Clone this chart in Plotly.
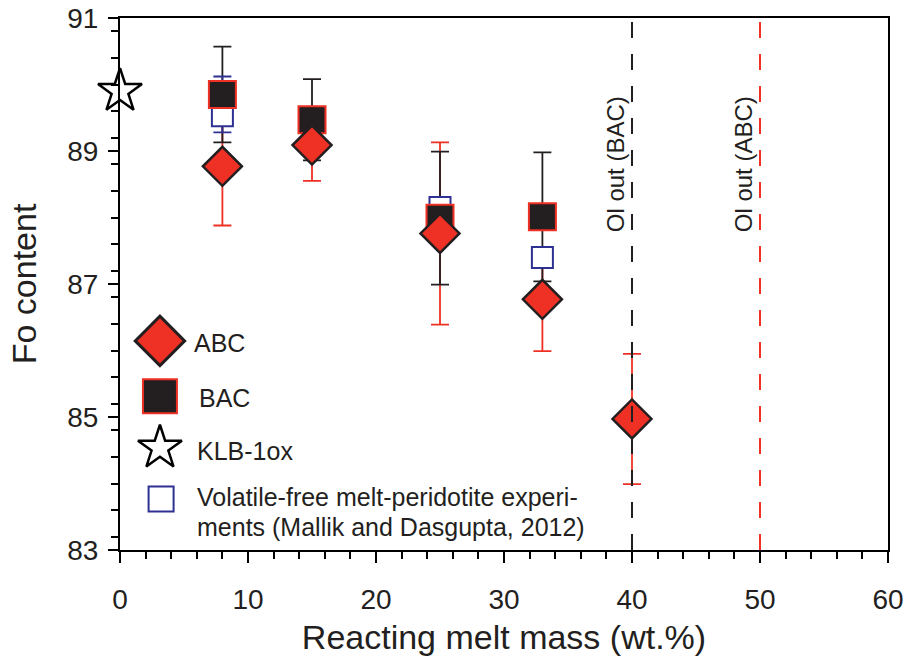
import plotly.graph_objects as go

# ABC series (red diamonds)
abc_x = [8, 15, 25, 33, 40]
abc_y = [88.77, 89.09, 87.76, 86.77, 84.97]
abc_err = [0.89, 0.54, 1.37, 0.78, 0.98]

# BAC series (black squares)
bac_x = [8, 15, 25, 33]
bac_y = [89.85, 89.47, 87.99, 88.01]
bac_err = [0.72, 0.61, 1.00, 0.97]

# volatile-free melt-peridotite experiments (Mallik and Dasgupta, 2012)
vf_x = [8, 25, 33]
vf_y = [89.53, 88.15, 87.40]
vf_err_plus = [0.59, 0, 0]
vf_err_minus = [0.25, 0, 0]

# starting peridotite
klb_x = [0]
klb_y = [89.9]

# olivine-out melt masses
ol_out_x = [40, 50]
ol_out_labels = ['Ol out (BAC)', 'Ol out (ABC)']
ol_out_colors = ['#231F20', '#EE3124']

RED = '#EE3124'
BLACK = '#231F20'
BLUE = '#2E3192'
FONT = 'Liberation Sans, Arial, sans-serif'

fig = go.Figure()

# error bars first, so the open squares sit on top of them
fig.add_trace(go.Scatter(x=abc_x, y=abc_y, mode='markers',
                         marker=dict(size=2, color='rgba(0,0,0,0)'),
                         error_y=dict(type='data', array=abc_err, color=RED, thickness=1.8, width=9)))
fig.add_trace(go.Scatter(x=bac_x, y=bac_y, mode='markers',
                         marker=dict(size=2, color='rgba(0,0,0,0)'),
                         error_y=dict(type='data', array=bac_err, color=BLACK, thickness=1.8, width=9)))
fig.add_trace(go.Scatter(x=vf_x, y=vf_y, mode='markers',
                         marker=dict(symbol='square', size=21, color='white', line=dict(color=BLUE, width=2)),
                         error_y=dict(type='data', symmetric=False, array=vf_err_plus, arrayminus=vf_err_minus,
                                      color=BLUE, thickness=1.8, width=9)))
fig.add_trace(go.Scatter(x=bac_x, y=bac_y, mode='markers',
                         marker=dict(symbol='square', size=27, color=BLACK, line=dict(color=RED, width=2))))
fig.add_trace(go.Scatter(x=abc_x, y=abc_y, mode='markers',
                         marker=dict(symbol='diamond', size=30, color=RED, line=dict(color=BLACK, width=2.5))))
fig.add_trace(go.Scatter(x=klb_x, y=klb_y, mode='markers', cliponaxis=False,
                         marker=dict(symbol='star', size=33, color='white', line=dict(color='black', width=2.5))))

# dashed olivine-out lines with rotated labels
for xv, lab, col in zip(ol_out_x, ol_out_labels, ol_out_colors):
    fig.add_vline(x=xv, line=dict(color=col, width=2, dash='16px,16px'))
    fig.add_annotation(x=xv - 1.33, y=88.8, text=lab, textangle=-90, showarrow=False,
                       xanchor='center', yanchor='middle', font=dict(size=24, color=BLACK, family=FONT))

# hand-made legend on a hidden 0..1 overlay axis
leg_x = [0.052, 0.052, 0.052, 0.0535]
leg_y = [0.393, 0.289, 0.192, 0.096]
leg_markers = [
    dict(symbol='diamond', size=38, color=RED, line=dict(color=BLACK, width=3)),
    dict(symbol='square', size=34, color=BLACK, line=dict(color=RED, width=2)),
    dict(symbol='star', size=33, color='white', line=dict(color='black', width=2.5)),
    dict(symbol='square', size=25, color='white', line=dict(color=BLUE, width=2)),
]
for lx, ly, mk in zip(leg_x, leg_y, leg_markers):
    fig.add_trace(go.Scatter(x=[lx], y=[ly], mode='markers', marker=mk,
                             xaxis='x2', yaxis='y2', cliponaxis=False))

leg_text = ['ABC', 'BAC', 'KLB-1ox',
            'Volatile-free melt-peridotite experi-', 'ments (Mallik and Dasgupta, 2012)']
leg_text_x = [0.094, 0.1, 0.098, 0.098, 0.098]
leg_text_y = [0.389, 0.286, 0.186, 0.1, 0.044]
for tx, ty, t in zip(leg_text_x, leg_text_y, leg_text):
    fig.add_annotation(x=tx, y=ty, xref='paper', yref='paper', text=t, showarrow=False,
                       xanchor='left', yanchor='middle', font=dict(size=25, color=BLACK, family=FONT))

fig.update_layout(
    width=904, height=659,
    margin=dict(l=120, r=16, t=18, b=109),
    plot_bgcolor='white', paper_bgcolor='white',
    showlegend=False,
    font=dict(family=FONT, color=BLACK),
    xaxis=dict(range=[0, 60], tick0=0, dtick=10, ticks='outside', ticklen=11, tickwidth=2,
               tickcolor='black', showline=True, linecolor='black', linewidth=2, mirror=True,
               showgrid=False, zeroline=False, tickfont=dict(size=28), ticklabelstandoff=12,
               automargin=False,
               minor=dict(dtick=2, ticks='outside', ticklen=7, tickwidth=2, tickcolor='black', showgrid=False),
               title=dict(text='Reacting melt mass (wt.%)', font=dict(size=34), standoff=12)),
    yaxis=dict(range=[83, 91], tick0=83, dtick=2, ticks='outside', ticklen=10, tickwidth=2,
               tickcolor='black', showline=True, linecolor='black', linewidth=2, mirror=True,
               showgrid=False, zeroline=False, tickfont=dict(size=28), ticklabelstandoff=4,
               automargin=False,
               minor=dict(dtick=0.4, ticks='outside', ticklen=7, tickwidth=2, tickcolor='black', showgrid=False),
               title=dict(text='Fo content', font=dict(size=34), standoff=20)),
    xaxis2=dict(overlaying='x', range=[0, 1], visible=False),
    yaxis2=dict(overlaying='y', range=[0, 1], visible=False),
)

# drop the page's default body margin so the figure sits at the window corner
fig.write_html("out.html", config={'displayModeBar': False},
               post_script="document.body.style.margin='0';")
